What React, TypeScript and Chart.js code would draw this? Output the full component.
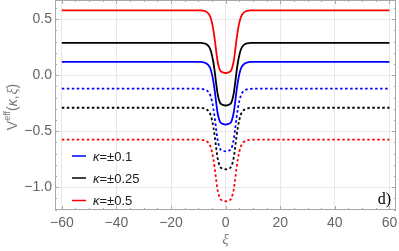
import React, { useEffect, useRef } from "react";
import { Chart, registerables } from "chart.js";

Chart.register(...registerables);

// ξ sample positions
const xi = [-60, -12, -9, -8, -7, -6, -5.5, -5, -4.5, -4, -3.5, -3, -2.5, -2, -1, 0, 1, 2, 2.5, 3, 3.5, 4, 4.5, 5, 5.5, 6, 7, 8, 9, 12, 60];

// solid curves (κ = +)
const redSolid = [0.58, 0.58, 0.579, 0.575, 0.566, 0.541, 0.513, 0.468, 0.406, 0.322, 0.222, 0.132, 0.076, 0.042, 0.026, 0.02, 0.026, 0.042, 0.076, 0.132, 0.222, 0.322, 0.406, 0.468, 0.513, 0.541, 0.566, 0.575, 0.579, 0.58, 0.58];
const blackSolid = [0.29, 0.29, 0.289, 0.285, 0.276, 0.251, 0.223, 0.178, 0.116, 0.032, -0.068, -0.158, -0.214, -0.248, -0.264, -0.27, -0.264, -0.248, -0.214, -0.158, -0.068, 0.032, 0.116, 0.178, 0.223, 0.251, 0.276, 0.285, 0.289, 0.29, 0.29];
const blueSolid = [0.12, 0.12, 0.119, 0.115, 0.106, 0.081, 0.053, 0.008, -0.054, -0.138, -0.238, -0.328, -0.384, -0.418, -0.434, -0.44, -0.434, -0.418, -0.384, -0.328, -0.238, -0.138, -0.054, 0.008, 0.053, 0.081, 0.106, 0.115, 0.119, 0.12, 0.12];
// dotted curves (κ = −)
const blueDotted = [-0.12, -0.12, -0.121, -0.125, -0.134, -0.159, -0.187, -0.232, -0.294, -0.378, -0.478, -0.568, -0.624, -0.658, -0.674, -0.68, -0.674, -0.658, -0.624, -0.568, -0.478, -0.378, -0.294, -0.232, -0.187, -0.159, -0.134, -0.125, -0.121, -0.12, -0.12];
const blackDotted = [-0.29, -0.29, -0.291, -0.295, -0.304, -0.328, -0.356, -0.4, -0.461, -0.543, -0.642, -0.73, -0.785, -0.818, -0.834, -0.84, -0.834, -0.818, -0.785, -0.73, -0.642, -0.543, -0.461, -0.4, -0.356, -0.328, -0.304, -0.295, -0.291, -0.29, -0.29];
const redDotted = [-0.575, -0.575, -0.576, -0.58, -0.589, -0.613, -0.641, -0.685, -0.746, -0.828, -0.927, -1.015, -1.07, -1.103, -1.119, -1.125, -1.119, -1.103, -1.07, -1.015, -0.927, -0.828, -0.746, -0.685, -0.641, -0.613, -0.589, -0.58, -0.576, -0.575, -0.575];

const xTicks = [-60, -40, -20, 0, 20, 40, 60];
const yTicks = [-1.0, -0.5, 0.0, 0.5];
const legendLabels = ["±0.1", "±0.25", "±0.5"];
const legendColors = ["#0000ff", "#000000", "#ff0000"];
const panelLabel = "d)";
const xTitle = "ξ";

const fmt = (v: number, d: number) => (v < 0 ? "\u2212" : "") + Math.abs(v).toFixed(d);

const decor = {
  id: "decor",
  afterDatasetsDraw(chart: any) {
    const { ctx, chartArea: a, scales } = chart;
    const x = scales.x;
    const y = scales.y;
    ctx.save();
    // frame
    ctx.strokeStyle = "#a8a8a8";
    ctx.lineWidth = 1;
    ctx.strokeRect(a.left + 0.5, a.top + 0.5, a.right - a.left - 1, a.bottom - a.top - 1);
    // ticks
    ctx.beginPath();
    for (let v = -60; v <= 60; v += 5) {
      const px = Math.round(x.getPixelForValue(v)) + 0.5;
      const len = v % 20 === 0 ? 4 : 2;
      ctx.moveTo(px, a.bottom);
      ctx.lineTo(px, a.bottom - len);
      ctx.moveTo(px, a.top);
      ctx.lineTo(px, a.top + len);
    }
    for (let k = -12; k <= 6; k++) {
      const v = k / 10;
      const py = Math.round(y.getPixelForValue(v)) + 0.5;
      const len = k % 5 === 0 ? 4 : 2;
      ctx.moveTo(a.left, py);
      ctx.lineTo(a.left + len, py);
      ctx.moveTo(a.right, py);
      ctx.lineTo(a.right - len, py);
    }
    ctx.stroke();

    // legend
    const rows = [156, 178, 200.5];
    for (let i = 0; i < legendLabels.length; i++) {
      const ly = rows[i];
      ctx.strokeStyle = legendColors[i];
      ctx.lineWidth = 1.5;
      ctx.setLineDash([]);
      ctx.beginPath();
      ctx.moveTo(a.left + 17, ly);
      ctx.lineTo(a.left + 31, ly);
      ctx.stroke();
      ctx.fillStyle = "#222";
      ctx.textBaseline = "middle";
      ctx.textAlign = "left";
      ctx.font = "italic 13px 'Liberation Sans', Arial, sans-serif";
      ctx.fillText("κ", a.left + 38, ly + 1);
      const w = ctx.measureText("κ").width;
      ctx.font = "13px 'Liberation Sans', Arial, sans-serif";
      ctx.fillText("=" + legendLabels[i], a.left + 38 + w, ly + 1);
    }

    // panel label
    ctx.fillStyle = "#000";
    ctx.font = "16px 'Liberation Serif', 'Times New Roman', serif";
    ctx.textAlign = "right";
    ctx.textBaseline = "alphabetic";
    ctx.fillText(panelLabel, a.right - 5, 204);

    // x title
    ctx.fillStyle = "#777";
    ctx.font = "italic 15px 'Liberation Serif', serif";
    ctx.textAlign = "center";
    ctx.textBaseline = "middle";
    ctx.fillText(xTitle, (a.left + a.right) / 2, 240);

    // y title: V^eff(κ,ξ)
    ctx.translate(13, (a.top + a.bottom) / 2 + 2);
    ctx.rotate(-Math.PI / 2);
    const parts: [string, string, number][] = [
      ["V", "14px 'Liberation Sans', sans-serif", 0],
      ["eff", "9px 'Liberation Sans', sans-serif", -5],
      ["(", "14px 'Liberation Sans', sans-serif", 0],
      ["κ", "italic 14px 'Liberation Sans', sans-serif", 0],
      [",", "14px 'Liberation Sans', sans-serif", 0],
      ["ξ", "italic 14px 'Liberation Serif', serif", 0],
      [")", "14px 'Liberation Sans', sans-serif", 0],
    ];
    let total = 0;
    for (const p of parts) {
      ctx.font = p[1];
      total += ctx.measureText(p[0]).width + (p[0] === "," ? 1 : 0);
    }
    let cx = -total / 2;
    ctx.textAlign = "left";
    ctx.textBaseline = "middle";
    for (const p of parts) {
      ctx.font = p[1];
      ctx.fillText(p[0], cx, p[2]);
      cx += ctx.measureText(p[0]).width + (p[0] === "," ? 1 : 0);
    }
    ctx.restore();
  },
};

export default function App() {
  const ref = useRef<HTMLCanvasElement | null>(null);
  useEffect(() => {
    document.body.style.margin = "0";
    const pts = (arr: number[]) => arr.map((v, i) => ({ x: xi[i], y: v }));
    const solid = (data: number[], color: string) => ({
      data: pts(data),
      borderColor: color,
      borderWidth: 1.8,
      pointRadius: 0,
      fill: false,
      cubicInterpolationMode: "monotone" as const,
    });
    const dotted = (data: number[], color: string) => ({
      ...solid(data, color),
      borderDash: [2.5, 2.5],
    });
    const chart = new Chart(ref.current as HTMLCanvasElement, {
      type: "line",
      data: {
        datasets: [
          dotted(redDotted, "#ff0000"),
          dotted(blackDotted, "#000000"),
          dotted(blueDotted, "#0000ff"),
          solid(blueSolid, "#0000ff"),
          solid(blackSolid, "#000000"),
          solid(redSolid, "#ff0000"),
        ],
      },
      options: {
        animation: false,
        responsive: false,
        devicePixelRatio: 1,
        layout: { padding: { top: 0, right: 3, left: 0, bottom: 0 } },
        plugins: { legend: { display: false }, tooltip: { enabled: false } },
        scales: {
          x: {
            type: "linear",
            min: -62.5,
            max: 62.4,
            afterBuildTicks: (s: any) => {
              s.ticks = xTicks.map((v) => ({ value: v }));
            },
            afterFit: (s: any) => {
              s.height = 41;
              s.paddingLeft = 0;
              s.paddingRight = 0;
            },
            grid: { color: "#e8e8e8", drawTicks: false },
            border: { display: false },
            ticks: {
              padding: 5,
              color: "#666",
              font: { size: 14, family: "'Liberation Sans', Arial, sans-serif" },
              callback: (v: any) => fmt(Number(v), 0),
              maxRotation: 0,
            },
          },
          y: {
            type: "linear",
            min: -1.203,
            max: 0.672,
            afterBuildTicks: (s: any) => {
              s.ticks = yTicks.map((v) => ({ value: v }));
            },
            afterFit: (s: any) => {
              s.width = 55;
              s.paddingTop = 0;
              s.paddingBottom = 0;
            },
            grid: { color: "#e8e8e8", drawTicks: false },
            border: { display: false },
            ticks: {
              padding: 3,
              color: "#666",
              font: { size: 14, family: "'Liberation Sans', Arial, sans-serif" },
              callback: (v: any) => fmt(Number(v), 1),
            },
          },
        },
      },
      plugins: [decor],
    });
    return () => chart.destroy();
  }, []);
  return (
    <div style={{ width: 399, height: 251 }}>
      <canvas ref={ref} width={399} height={251} style={{ display: "block" }} />
    </div>
  );
}
